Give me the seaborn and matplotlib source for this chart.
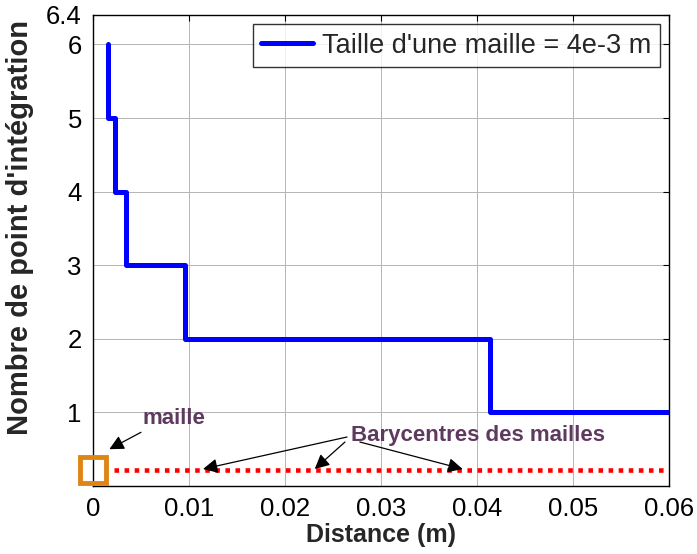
import numpy as np
import pandas as pd
import matplotlib
matplotlib.use("Agg")
import matplotlib.pyplot as plt
import seaborn as sns

# Données
seuils_x = [0.0016, 0.0023, 0.0034, 0.0096, 0.0414]   # abscisses des sauts
nb_points = [6, 5, 4, 3, 2, 1]                         # nombre de points d'intégration
x_fin = 0.06

barycentres_x = [0.0022, 0.06]
barycentre_y = 0.22
maille_x = 0.0
maille_y = 0.22

x_ticks = [0, 0.01, 0.02, 0.03, 0.04, 0.05, 0.06]
x_ticklabels = ["0", "0.01", "0.02", "0.03", "0.04", "0.05", "0.06"]
y_ticks = [1, 2, 3, 4, 5, 6, 6.4]
y_ticklabels = ["1", "2", "3", "4", "5", "6", "6.4"]


def construire_escalier(seuils, valeurs, fin):
    """Construit les sommets de la courbe en escalier"""
    xs, ys = [seuils[0]], [valeurs[0]]
    for i, s in enumerate(seuils):
        xs += [s, s]
        ys += [valeurs[i], valeurs[i + 1]]
    xs.append(fin)
    ys.append(valeurs[-1])
    return pd.DataFrame({"x": xs, "y": ys})


sns.set_style("white")
plt.rcParams['font.family'] = ['Liberation Sans', 'DejaVu Sans']

fig = plt.figure(figsize=(6.97, 5.54), dpi=100)
ax = fig.add_axes([0.1334, 0.1227, 0.8264, 0.8503])

df_step = construire_escalier(seuils_x, nb_points, x_fin)
sns.lineplot(data=df_step, x="x", y="y", ax=ax, estimator=None, sort=False,
             color="#0000ff", linewidth=3.6, label="Taille d'une maille = 4e-3 m")

df_bary = pd.DataFrame({"x": barycentres_x, "y": [barycentre_y] * len(barycentres_x)})
sns.lineplot(data=df_bary, x="x", y="y", ax=ax, estimator=None, sort=False,
             color="#ff0000", linewidth=3.3, legend=False)
ax.lines[-1].set_dashes((1, 1.2))
ax.lines[-1].set_dash_capstyle("butt")

ax.plot([maille_x], [maille_y], marker="s", markersize=19, markerfacecolor="none",
        markeredgecolor="#de8516", markeredgewidth=3.5, linestyle="none", clip_on=False,
        zorder=5)

violet = "#5f3a5f"
fleche = dict(arrowstyle="-|>", color="black", lw=0.9, mutation_scale=22,
              shrinkA=0, shrinkB=0)

ax.text(0.0084, 0.92, "maille", color=violet, fontsize=16, fontweight="bold",
        ha="center", va="center")
ax.annotate("", xy=(0.0017, 0.50), xytext=(0.0050, 0.73), arrowprops=fleche)

for tete, queue in [((0.01146, 0.231), (0.02646, 0.666)),
                    ((0.0231, 0.231), (0.02625, 0.598)),
                    ((0.0385, 0.231), (0.0278, 0.598))]:
    ax.annotate("", xy=tete, xytext=queue, arrowprops=fleche)
ax.text(0.0401, 0.69, "Barycentres des mailles", color=violet, fontsize=16,
        fontweight="bold", ha="center", va="center")

ax.set_xlim(0, 0.06)
ax.set_ylim(0, 6.4)
ax.set_xticks(x_ticks)
ax.set_xticklabels(x_ticklabels)
ax.set_yticks(y_ticks)
ax.set_yticklabels(y_ticklabels)
ax.tick_params(direction="in", length=4, width=0.8, labelsize=18.5, top=True, right=True,
               colors="black", pad=8)
ax.grid(True, color="#b4b4b4", linewidth=0.7)
for sp in ax.spines.values():
    sp.set_color("black")
    sp.set_linewidth(1.0)

ax.set_xlabel("Distance (m)", fontsize=18, fontweight="bold", labelpad=1)
ax.set_ylabel("Nombre de point d'intégration", fontsize=21, fontweight="bold")
ax.yaxis.set_label_coords(-0.102, 0.548)

leg = ax.legend(loc="upper right", fontsize=19.5, frameon=True, fancybox=False,
                handlelength=1.9, borderaxespad=0.35, borderpad=0.3, handletextpad=0.35)
leg.get_frame().set_edgecolor("black")
leg.get_frame().set_linewidth(1.0)

fig.savefig("out.png", dpi=100)
